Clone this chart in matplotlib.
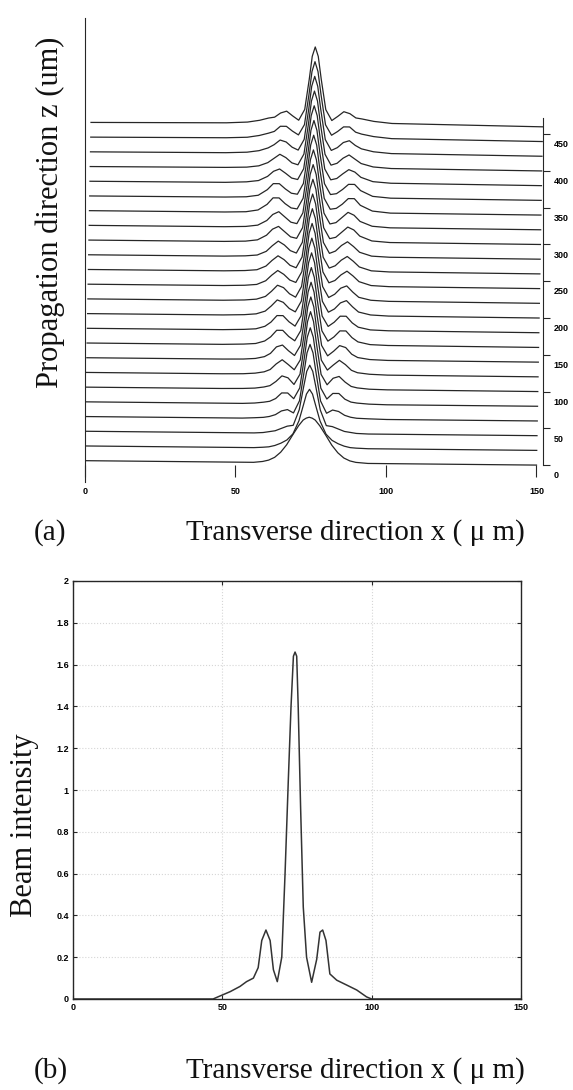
import numpy as np
import matplotlib
matplotlib.use('Agg')
from matplotlib import pyplot as plt
from matplotlib.transforms import ScaledTranslation

# ---- (a) waterfall of beam profiles along z ----
z_levels = [0, 20, 40, 60, 80, 100, 120, 140, 160, 180, 200, 220,
            240, 260, 280, 300, 320, 340, 360, 380, 400, 420, 440, 460]

x_grid = [0, 45, 52, 56, 59, 61, 63, 65, 67, 69, 71, 72.5, 73.5,
          74.5, 75.5, 76.5, 78, 80, 82, 84, 86, 88, 90, 94, 100, 150]

# intensity of each trace at x_grid (one row per z level)
profiles = [
    [0, 0, 0, 0, 0.02, 0.05, 0.11, 0.22, 0.38, 0.59, 0.79, 0.91, 0.95,
     0.97, 0.95, 0.91, 0.79, 0.59, 0.38, 0.22, 0.11, 0.05, 0.02, 0, 0, 0],
    [0, 0, 0, 0, 0.01, 0.02, 0.05, 0.10, 0.17, 0.30, 0.58, 0.92, 1.15,
     1.25, 1.15, 0.92, 0.58, 0.30, 0.17, 0.10, 0.05, 0.02, 0.01, 0, 0, 0],
    [0, 0, 0, 0, 0.01, 0.03, 0.05, 0.10, 0.15, 0.17, 0.50, 1.00, 1.32,
     1.45, 1.32, 1.00, 0.50, 0.17, 0.15, 0.10, 0.05, 0.03, 0.01, 0, 0, 0],
    [0, 0, 0, 0.01, 0.02, 0.04, 0.08, 0.16, 0.19, 0.12, 0.38, 0.98, 1.40,
     1.58, 1.40, 0.98, 0.38, 0.12, 0.19, 0.16, 0.08, 0.04, 0.02, 0.01, 0, 0],
    [0, 0, 0, 0.01, 0.03, 0.05, 0.11, 0.23, 0.23, 0.11, 0.34, 0.97, 1.42,
     1.62, 1.42, 0.97, 0.34, 0.11, 0.23, 0.23, 0.11, 0.05, 0.03, 0.01, 0, 0],
    [0, 0, 0.005, 0.015, 0.04, 0.07, 0.16, 0.28, 0.24, 0.10, 0.32, 0.96, 1.44,
     1.65, 1.44, 0.96, 0.32, 0.10, 0.24, 0.28, 0.16, 0.07, 0.04, 0.015, 0.005, 0],
    [0, 0, 0.005, 0.02, 0.05, 0.10, 0.22, 0.31, 0.21, 0.10, 0.31, 0.95, 1.44,
     1.65, 1.44, 0.95, 0.31, 0.10, 0.21, 0.31, 0.22, 0.10, 0.05, 0.02, 0.005, 0],
    [0, 0, 0.005, 0.02, 0.06, 0.13, 0.27, 0.31, 0.19, 0.09, 0.31, 0.95, 1.44,
     1.65, 1.44, 0.95, 0.31, 0.09, 0.19, 0.31, 0.27, 0.13, 0.06, 0.02, 0.005, 0],
    [0, 0, 0.01, 0.025, 0.08, 0.17, 0.31, 0.31, 0.18, 0.09, 0.31, 0.95, 1.44,
     1.65, 1.44, 0.95, 0.31, 0.09, 0.18, 0.31, 0.31, 0.17, 0.08, 0.025, 0.01, 0],
    [0, 0, 0.01, 0.025, 0.08, 0.17, 0.31, 0.31, 0.18, 0.09, 0.31, 0.95, 1.44,
     1.65, 1.44, 0.95, 0.31, 0.09, 0.18, 0.31, 0.31, 0.17, 0.08, 0.025, 0.01, 0],
    [0, 0, 0.01, 0.03, 0.09, 0.20, 0.33, 0.28, 0.15, 0.08, 0.31, 0.95, 1.44,
     1.65, 1.44, 0.95, 0.31, 0.08, 0.15, 0.28, 0.33, 0.20, 0.09, 0.03, 0.01, 0],
    [0, 0, 0.01, 0.03, 0.09, 0.20, 0.33, 0.28, 0.15, 0.08, 0.31, 0.95, 1.44,
     1.65, 1.44, 0.95, 0.31, 0.08, 0.15, 0.28, 0.33, 0.20, 0.09, 0.03, 0.01, 0],
    [0, 0, 0.01, 0.03, 0.11, 0.23, 0.33, 0.25, 0.13, 0.08, 0.31, 0.95, 1.44,
     1.65, 1.44, 0.95, 0.31, 0.08, 0.13, 0.25, 0.33, 0.23, 0.11, 0.03, 0.01, 0],
    [0, 0, 0.01, 0.03, 0.11, 0.23, 0.33, 0.25, 0.13, 0.08, 0.31, 0.95, 1.44,
     1.65, 1.44, 0.95, 0.31, 0.08, 0.13, 0.25, 0.33, 0.23, 0.11, 0.03, 0.01, 0],
    [0, 0, 0.01, 0.03, 0.11, 0.23, 0.33, 0.25, 0.13, 0.08, 0.31, 0.95, 1.44,
     1.65, 1.44, 0.95, 0.31, 0.08, 0.13, 0.25, 0.33, 0.23, 0.11, 0.03, 0.01, 0],
    [0, 0, 0.01, 0.04, 0.14, 0.27, 0.33, 0.22, 0.11, 0.08, 0.31, 0.95, 1.44,
     1.65, 1.44, 0.95, 0.31, 0.08, 0.11, 0.22, 0.33, 0.27, 0.14, 0.04, 0.01, 0],
    [0, 0, 0.01, 0.04, 0.14, 0.27, 0.33, 0.22, 0.11, 0.08, 0.31, 0.95, 1.44,
     1.65, 1.44, 0.95, 0.31, 0.08, 0.11, 0.22, 0.33, 0.27, 0.14, 0.04, 0.01, 0],
    [0, 0, 0.01, 0.05, 0.17, 0.31, 0.31, 0.19, 0.10, 0.08, 0.31, 0.95, 1.44,
     1.65, 1.44, 0.95, 0.31, 0.08, 0.10, 0.19, 0.31, 0.31, 0.17, 0.05, 0.01, 0],
    [0, 0.005, 0.015, 0.05, 0.17, 0.30, 0.30, 0.19, 0.10, 0.08, 0.31, 0.95, 1.44,
     1.65, 1.44, 0.95, 0.31, 0.08, 0.10, 0.19, 0.30, 0.30, 0.17, 0.05, 0.015, 0],
    [0, 0.005, 0.02, 0.05, 0.14, 0.25, 0.30, 0.21, 0.11, 0.08, 0.31, 0.95, 1.44,
     1.65, 1.44, 0.95, 0.31, 0.08, 0.11, 0.21, 0.30, 0.25, 0.14, 0.05, 0.02, 0],
    [0, 0.01, 0.02, 0.05, 0.12, 0.21, 0.30, 0.23, 0.12, 0.08, 0.31, 0.95, 1.44,
     1.65, 1.44, 0.95, 0.31, 0.08, 0.12, 0.23, 0.30, 0.21, 0.12, 0.05, 0.02, 0],
    [0, 0.01, 0.025, 0.06, 0.12, 0.19, 0.29, 0.25, 0.14, 0.08, 0.31, 0.95, 1.44,
     1.65, 1.44, 0.95, 0.31, 0.08, 0.14, 0.25, 0.29, 0.19, 0.12, 0.06, 0.025, 0],
    [0, 0.015, 0.03, 0.07, 0.12, 0.16, 0.27, 0.27, 0.17, 0.09, 0.31, 0.95, 1.44,
     1.65, 1.44, 0.95, 0.31, 0.09, 0.17, 0.27, 0.27, 0.16, 0.12, 0.07, 0.03, 0],
    [0, 0.02, 0.04, 0.08, 0.13, 0.15, 0.24, 0.28, 0.18, 0.09, 0.32, 0.96, 1.45,
     1.65, 1.45, 0.96, 0.32, 0.09, 0.18, 0.28, 0.24, 0.15, 0.13, 0.08, 0.04, 0],
]

x_ticks_a = [0, 50, 100, 150]
z_ticks = [0, 50, 100, 150, 200, 250, 300, 350, 400, 450]

# ---- (b) intensity profile ----
x_b = [0, 20, 40, 46.9, 48.5, 52.6, 55.9, 58.1, 60.4, 62.0, 63.2, 64.6,
       66.0, 67.1, 68.4, 69.9, 71.0, 72.1, 73.0, 73.8, 74.35, 74.9, 75.4,
       76.2, 77.1, 78.2, 79.9, 81.6, 82.7, 83.6, 84.7, 86.0, 88.3, 91.6,
       95.0, 98.3, 100.0, 120, 150]
i_b = [0, 0, 0, 0, 0.01, 0.035, 0.06, 0.083, 0.10, 0.15, 0.28, 0.33,
       0.28, 0.14, 0.083, 0.20, 0.60, 1.05, 1.40, 1.64, 1.66, 1.64, 1.40,
       0.92, 0.44, 0.20, 0.08, 0.19, 0.32, 0.33, 0.28, 0.12, 0.09, 0.067,
       0.043, 0.01, 0, 0, 0]

x_ticks_b = [0, 50, 100, 150]
y_ticks_b = [0, 0.2, 0.4, 0.6, 0.8, 1.0, 1.2, 1.4, 1.6, 1.8, 2.0]
y_ticklabels_b = ['0', '0.2', '0.4', '0.6', '0.8', '1', '1.2', '1.4', '1.6', '1.8', '2']

SERIF = ['Liberation Serif', 'DejaVu Serif']
TICKFONT = {'family': ['Liberation Sans', 'DejaVu Sans'], 'weight': 'bold', 'size': 6.5}
INK = '#262626'

# view of the waterfall: slight skew and tilt, vertical gain for intensity
SKEW = 2.0 / 460
TILT = 6.0
GAIN = 64.0


def draw_waterfall(ax):
    xs = np.array(x_grid, dtype=float)
    n = len(z_levels)
    for k, (z, row) in enumerate(zip(z_levels, profiles)):
        xs_k = xs + SKEW * z
        base = z + TILT * (1 - xs / 150.0)
        top = base + GAIN * np.array(row)
        zo = 10 + 2 * (n - k)
        ax.fill_between(xs_k, base, top, color='white', lw=0, zorder=zo)
        ax.plot(xs_k, top, color=INK, lw=0.9, zorder=zo + 1)

    ax.set_xlim(0, 152)
    ax.set_ylim(-23, 608)
    ax.spines['top'].set_visible(False)
    ax.spines['bottom'].set_position(('data', -16))
    ax.spines['bottom'].set_color('none')
    ax.spines['left'].set_color(INK)
    ax.spines['right'].set_color(INK)
    ax.spines['right'].set_bounds(0, 472)

    ax.set_xticks(x_ticks_a)
    ax.set_xticklabels([str(v) for v in x_ticks_a], fontdict=TICKFONT)
    ax.tick_params(axis='x', direction='in', length=8.5, width=0.8,
                   color=INK, pad=7)

    ax.yaxis.tick_right()
    ax.set_yticks(z_ticks)
    ax.set_yticklabels([str(v) for v in z_ticks], fontdict=TICKFONT)
    ax.tick_params(axis='y', direction='out', length=5, width=0.8,
                   color=INK, pad=3)
    shift = ScaledTranslation(0, -7 / 72, ax.figure.dpi_scale_trans)
    for lab in ax.get_yticklabels():
        lab.set_transform(lab.get_transform() + shift)

    ax.yaxis.set_label_position('left')
    ax.set_ylabel('Propagation direction z (um)', family=SERIF, fontsize=22,
                  color='#111111', va='center', ha='center')
    ax.yaxis.set_label_coords(-0.077, 0.582)


def draw_profile(ax):
    ax.plot(x_b, i_b, color='#333333', lw=1.1)
    ax.set_xlim(0, 150)
    ax.set_ylim(0, 2)
    ax.set_xticks(x_ticks_b)
    ax.set_xticklabels([str(v) for v in x_ticks_b], fontdict=TICKFONT)
    ax.set_yticks(y_ticks_b)
    ax.set_yticklabels(y_ticklabels_b, fontdict=TICKFONT)
    ax.tick_params(direction='in', length=3, width=0.8, color=INK,
                   top=True, right=True, pad=3)
    ax.grid(True, color='#d6d6d6', linestyle=':', linewidth=0.8)
    for sp in ax.spines.values():
        sp.set_color(INK)
        sp.set_linewidth(1.0)
    ax.set_ylabel('Beam intensity', family=SERIF, fontsize=22,
                  color='#111111', va='center', ha='center')
    ax.yaxis.set_label_coords(-0.109, 0.416)


def main():
    W, H = 573, 1090
    fig = plt.figure(figsize=(W / 100, H / 100), dpi=100)
    fig.patch.set_facecolor('white')

    ax_a = fig.add_axes([85 / W, 1 - 482 / H, 457.5 / W, 464 / H])
    draw_waterfall(ax_a)

    ax_b = fig.add_axes([73 / W, 1 - 999 / H, 448 / W, 418 / H])
    draw_profile(ax_b)

    for y_px, tag in [(540, '(a)'), (1078, '(b)')]:
        fig.text(34 / W, 1 - y_px / H, tag, family=SERIF, fontsize=21,
                 color='#111111', ha='left', va='baseline')
        fig.text(186 / W, 1 - y_px / H, 'Transverse direction x ( μ m)',
                 family=SERIF, fontsize=21, color='#111111',
                 ha='left', va='baseline')

    fig.savefig('out.png', dpi=100, facecolor='white')


if __name__ == '__main__':
    main()
